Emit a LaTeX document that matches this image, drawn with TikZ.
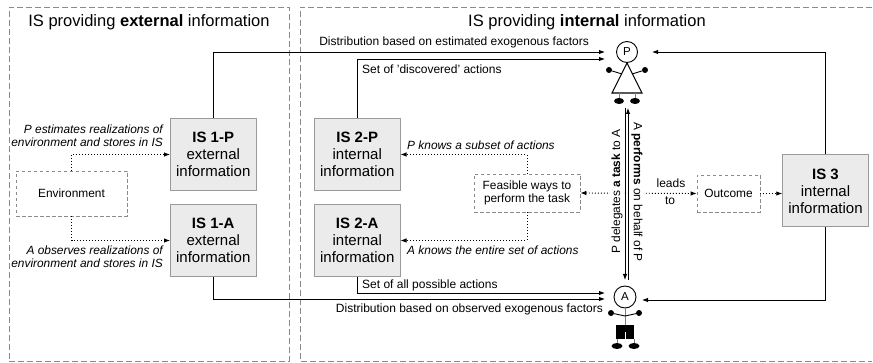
\documentclass[tikz,border=0pt]{standalone}
\usepackage{fontspec}
\setmainfont{Liberation Sans}
\usetikzlibrary{arrows.meta,calc,shapes.geometric}
\definecolor{framegray}{HTML}{8A8A8A}
\definecolor{boxfill}{HTML}{EBEBEB}
\definecolor{boxline}{HTML}{9A9A9A}
\tikzset{
  x=1pt,y=-1pt,
  frame/.style={draw=framegray,line width=0.8pt,dash pattern=on 6pt off 3pt},
  isbox/.style={draw=boxline,fill=boxfill,line width=1pt,minimum width=85.5pt,minimum height=72pt,align=center,inner sep=0pt,font=\fontsize{15}{17}\selectfont},
  dbox/.style={draw=framegray,line width=0.7pt,dash pattern=on 3.5pt off 2.5pt,align=center,inner sep=0pt,font=\fontsize{11.9}{13}\selectfont},
  title/.style={font=\fontsize{16.5}{18}\selectfont,inner sep=0pt},
  lab/.style={font=\fontsize{12}{13}\selectfont,inner sep=0pt,align=center},
  ilab/.style={font=\fontsize{11.9}{13}\itshape\selectfont,inner sep=0pt},
  arr/.style={line width=0.9pt,-{Latex[length=6pt,width=4.5pt]}},
  dotarr/.style={line width=0.9pt,dash pattern=on 1pt off 2pt,-{Latex[length=6pt,width=4.5pt,fill=black]}},
  limb/.style={line width=0.9pt},
  foot/.style={fill=black,draw=none,ellipse,minimum width=10pt,minimum height=6pt,inner sep=0pt},
  head/.style={draw=black,fill=white,circle,line width=0.9pt,inner sep=0pt,font=\fontsize{11.5}{12}\selectfont},
}
\begin{document}
\begin{tikzpicture}
\useasboundingbox (0,0) rectangle (873,363);
\fill[white] (0,0) rectangle (873,363);
% frames
\node[frame,minimum width=280pt,minimum height=354pt,inner sep=0pt,anchor=north west] (fl) at (9,7) {};
\draw[frame] (872,7) -- (300,7) -- (300,361) -- (872,361);
\node[title] (tl) at (149,22) {IS providing \textbf{external} information};
\node[title] (tr) at (587,22) {IS providing \textbf{internal} information};
% boxes
\node[isbox] (is1p) at (213.25,154.5) {\textbf{IS 1-P}\\external\\information};
\node[isbox] (is1a) at (213.25,240.5) {\textbf{IS 1-A}\\external\\information};
\node[isbox] (is2p) at (357.25,154.5) {\textbf{IS 2-P}\\internal\\information};
\node[isbox] (is2a) at (357.25,240.5) {\textbf{IS 2-A}\\internal\\information};
\node[isbox] (is3) at (825.5,191) {\textbf{IS 3}\\internal\\information};
\node[dbox,minimum width=111pt,minimum height=45pt] (env) at (71.5,193.5) {Environment};
\node[dbox,minimum width=106pt,minimum height=38pt] (feas) at (527,193) {Feasible ways to\\perform the task};
\node[dbox,minimum width=63pt,minimum height=37pt] (out) at (728.5,193.5) {Outcome};
% actor P
\node[head,minimum size=21pt] (hp) at (627,52) {P};
\coordinate (papex) at (627,63);
\coordinate (pbl) at (612,93);
\coordinate (pbr) at (642,93);
\draw[line width=1.1pt,line join=miter] (papex) -- (pbl) -- (pbr) -- cycle;
\draw[limb] (hp.south) -- (papex);
\node[foot,minimum width=6pt] (phl) at (609,70) {};
\node[foot,minimum width=6pt] (phr) at (645,70) {};
\draw[limb] (phl) -- (622,74);
\draw[limb] (phr) -- (632,74);
\node[foot] (pfl) at (619,101) {};
\node[foot] (pfr) at (635,101) {};
\draw[limb,draw=gray] (pfl) -- (pfl|-pbl);
\draw[limb,draw=gray] (pfr) -- (pfr|-pbr);
% actor A
\node[head,minimum size=22pt] (ha) at (625,297) {A};
\node[fill=black,minimum width=18pt,minimum height=14pt,inner sep=0pt] (ash) at (625,332) {};
\draw[limb,draw=gray] (ha.south) -- (ash.north);
\draw[line width=0.7pt,white] (ash.center) -- (ash.south);
\node[foot,minimum width=6pt] (ahl) at (611,313) {};
\node[foot,minimum width=6pt] (ahr) at (639,313) {};
\coordinate (ach) at (625,316);
\draw[limb] (ahl) -- (ach) -- (ahr);
\node[foot,minimum width=11pt] (afl) at (617,346) {};
\node[foot,minimum width=11pt] (afr) at (634,346) {};
\draw[limb,draw=gray] (afl) -- (afl|-ash.south);
\draw[limb,draw=gray] (afr) -- (afr|-ash.south);
% connector ends
\coordinate (pin1) at (605,52);
\coordinate (pin2) at (605,59);
\coordinate (pin3) at (652,52);
\coordinate (ain1) at (605,293);
\coordinate (ain2) at (605,299);
\coordinate (ain3) at (642,300);
\coordinate (ptop1) at (625,108);
\coordinate (abot1) at (625,280);
\coordinate (ptop2) at (628,108);
\coordinate (abot2) at (628,280);
% connectors
\draw[arr] (is1p.north) |- (pin1);
\draw[arr] (is2p.north) |- (pin2);
\draw[arr] (is3.north) |- (pin3);
\draw[arr] (is1a.south) |- (ain2);
\draw[arr] (is2a.south) |- (ain1);
\draw[arr] (is3.south) |- (ain3);
\draw[arr] (ptop1) -- (abot1);
\draw[arr] (abot2) -- (ptop2);
% dotted
\draw[dotarr] (env.north) |- (is1p.west);
\draw[dotarr] (env.south) |- (is1a.west);
\draw[dotarr] (feas.north) |- (is2p.east);
\draw[dotarr] (feas.south) |- (is2a.east);
\draw[dotarr,{Latex[length=6pt,width=4.5pt,fill=black]}-{Latex[length=6pt,width=4.5pt,fill=black]}] (feas.east) -- (out.west);
\draw[dotarr] (out.east) -- (is3.west|-out.east);
% rotated labels over the dotted line
\node[lab,rotate=90,fill=white,inner xsep=0pt,inner ysep=1pt,font=\fontsize{11.9}{13}\selectfont] (ldel) at (617,191.5) {P delegates \textbf{a task} to A};
\node[lab,rotate=-90,fill=white,inner xsep=0pt,inner ysep=1pt,font=\fontsize{11.9}{13}\selectfont] (lperf) at (637,192) {A \textbf{performs} on behalf of P};
% labels
\node[lab,anchor=east] (l1) at (589,42) {Distribution based on estimated exogenous factors};
\node[lab,anchor=west] (l2) at (362,69) {Set of 'discovered' actions};
\node[lab,anchor=west] (l3) at (362,285) {Set of all possible actions};
\node[lab,anchor=east] (l4) at (603,309) {Distribution based on observed exogenous factors};
\node[lab] (l5) at (671,183) {leads};
\node[lab] (l6) at (670,201) {to};
\node[ilab,align=right,anchor=east] (l7) at (163,136) {P estimates realizations of\\environment and stores in IS};
\node[ilab,align=right,anchor=east] (l8) at (163,257) {A observes realizations of\\environment and stores in IS};
\node[ilab,anchor=west] (l9) at (407,145) {P knows a subset of actions};
\node[ilab,anchor=west] (l10) at (407,250) {A knows the entire set of actions};
\end{tikzpicture}
\end{document}
